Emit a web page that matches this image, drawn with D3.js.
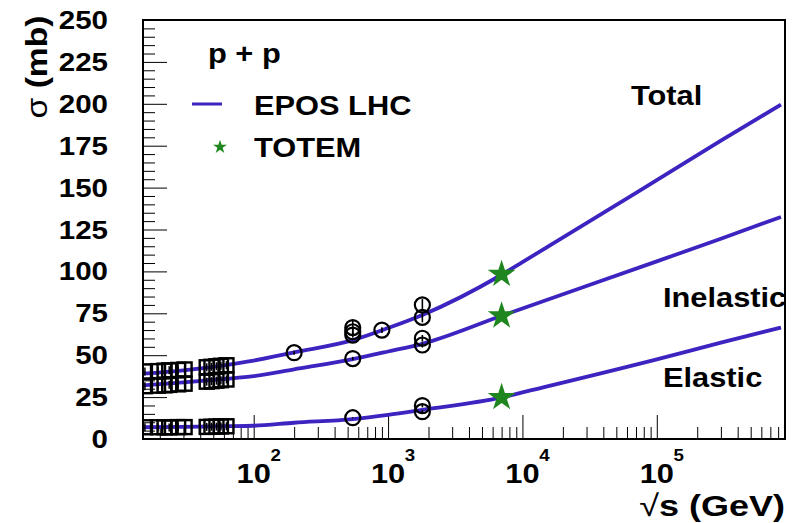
<!DOCTYPE html>
<html>
<head>
<meta charset="utf-8">
<script src="https://cdn.jsdelivr.net/npm/d3@7"></script>
<style>
  html, body { margin: 0; padding: 0; background: #fff; }
  svg { display: block; }
  text { font-family: "Liberation Sans", Arial, Helvetica, sans-serif; font-weight: bold; fill: #000; }
</style>
</head>
<body>
<svg id="chart" width="794" height="523"></svg>
<script>
// EPOS LHC model curves (sqrt(s) in GeV, cross sections in mb)
const eposEnergy   = [15, 30, 60, 100, 200, 546, 1000, 1800, 7000, 1e4, 1e5, 3e5, 8.4e5];
const eposTotal    = [39, 41, 44, 46.8, 51.7, 59, 66.2, 74, 98, 105.5, 154.5, 178, 199.5];
const eposInelastic= [32, 33.8, 35.8, 37.5, 41.6, 47.7, 52.2, 56.8, 73.5, 77.9, 106, 119.5, 132.5];
const eposElastic  = [7, 7.2, 7.6, 7.9, 9.7, 11.9, 14.4, 17.4, 24.8, 27.8, 47.5, 57.5, 66.5];

// pp data at lower energies (squares)
const ppEnergy     = [15.5, 19.4, 21.7, 23.5, 27.4, 30.6, 44.7, 48.5, 52.8, 57, 62.7];
const ppTotal      = [40.3, 40.5, 40.8, 41.0, 41.2, 41.5, 42.8, 43.1, 43.4, 43.7, 44.0];
const ppInelastic  = [31.5, 31.8, 32.0, 32.3, 32.6, 33.0, 34.2, 34.5, 34.8, 35.1, 35.5];
const ppElastic    = [7.0, 7.0, 7.0, 6.9, 7.1, 7.1, 7.2, 7.3, 7.4, 7.5, 7.6];

// collider data (circles): energy, value, error
const cTotalEnergy = [200, 546, 546, 546, 900, 1800, 1800];
const cTotal       = [51.5, 62, 64, 66.5, 65, 72.6, 80];
const cTotalErr    = [1.2, 1.5, 2, 4.5, 1.7, 3, 3.5];
const cInelEnergy  = [546, 1800, 1800];
const cInelastic   = [48, 56.1, 60.1];
const cInelErr     = [1, 1.5, 2];
const cElEnergy    = [546, 1800, 1800];
const cElastic     = [12.7, 16.3, 19.9];
const cElErr       = [0.3, 1, 1];

// TOTEM at 7 TeV (stars)
const totemEnergy  = [7000, 7000, 7000];
const totemValues  = [98.3, 73.5, 24.8];

// axis ticks
const yMajorTicks  = [0, 25, 50, 75, 100, 125, 150, 175, 200, 225, 250];
const xMajorTicks  = [100, 1e3, 1e4, 1e5];
const xMajorExp    = ["2", "3", "4", "5"];
const curveLabels  = ["Total", "Inelastic", "Elastic"];

const BLUE = "#3b24c0";
const GREEN = "#1f861f";

const svg = d3.select("#chart");
const L = 143, R = 785, T = 20, B = 439;

const x = d3.scaleLog().domain([15, 9e5]).range([L, R]);
const y = d3.scaleLinear().domain([0, 250]).range([B, T]);

// stretched text helper
function label(g, px, py, str, size, anchor, sx) {
  return g.append("text")
    .attr("transform", `translate(${px},${py}) scale(${sx || 1.1},1)`)
    .attr("text-anchor", anchor || "start")
    .style("font-size", size + "px")
    .text(str);
}

svg.append("defs").append("clipPath").attr("id", "plotClip")
  .append("rect").attr("x", L).attr("y", T).attr("width", R - L).attr("height", B - T);

// y ticks (inside, pointing right)
const yMinor = d3.range(0, 251, 5).filter(v => v % 25 !== 0);
svg.append("g").attr("transform", `translate(${L},0)`)
  .call(d3.axisRight(y).tickValues(yMinor).tickSize(12).tickFormat(""))
  .call(g => g.select(".domain").remove())
  .call(g => g.selectAll("line").attr("stroke", "#000").attr("stroke-width", 1));
svg.append("g").attr("transform", `translate(${L},0)`)
  .call(d3.axisRight(y).tickValues(yMajorTicks).tickSize(24).tickFormat(""))
  .call(g => g.select(".domain").remove())
  .call(g => g.selectAll("line").attr("stroke", "#000").attr("stroke-width", 1));

// x ticks (inside, pointing up)
const xMinor = [];
for (let d = 10; d <= 1e5; d *= 10) for (let m = 2; m <= 9; m++) {
  const v = d * m; if (v >= 15 && v <= 9e5) xMinor.push(v);
}
svg.append("g").attr("transform", `translate(0,${B})`)
  .call(d3.axisTop(x).tickValues(xMinor).tickSize(12).tickFormat(""))
  .call(g => g.select(".domain").remove())
  .call(g => g.selectAll("line").attr("stroke", "#000").attr("stroke-width", 1));
svg.append("g").attr("transform", `translate(0,${B})`)
  .call(d3.axisTop(x).tickValues(xMajorTicks).tickSize(24).tickFormat(""))
  .call(g => g.select(".domain").remove())
  .call(g => g.selectAll("line").attr("stroke", "#000").attr("stroke-width", 1));

// y tick labels
const yl = svg.append("g");
yMajorTicks.forEach(v => {
  label(yl, 108, y(v) + 9, String(v), 25, "end", 1.18);
});

// x tick labels: 10 with superscript exponent
const xl = svg.append("g");
xMajorTicks.forEach((v, i) => {
  label(xl, x(v), 483, "10", 28, "middle", 1.1);
  label(xl, x(v) + 22, 461, xMajorExp[i], 17, "middle", 1.1);
});

// axis titles
svg.append("text")
  .attr("transform", "translate(47,67) rotate(-90) scale(1.12,1)")
  .attr("text-anchor", "middle")
  .style("font-size", "30px")
  .call(t => {
    t.append("tspan").style("font-weight", "normal").text("σ");
    t.append("tspan").text(" (mb)");
  });
svg.append("text")
  .attr("transform", "translate(785,516) scale(1.2,1)")
  .attr("text-anchor", "end")
  .style("font-size", "30px")
  .call(t => {
    t.append("tspan").style("font-weight", "normal").text("√");
    t.append("tspan").text("s (GeV)");
  });

const plot = svg.append("g").attr("clip-path", "url(#plotClip)");

// model curves
const line = d3.line().x(d => x(d[0])).y(d => y(d[1])).curve(d3.curveMonotoneX);
[eposTotal, eposInelastic, eposElastic].forEach(series => {
  plot.append("path")
    .datum(eposEnergy.map((e, i) => [e, series[i]]))
    .attr("d", line)
    .attr("fill", "none")
    .attr("stroke", BLUE)
    .attr("stroke-width", 3.8)
    .attr("stroke-linejoin", "round");
});

// squares
const sq = 14;
[ppTotal, ppInelastic, ppElastic].forEach(series => {
  plot.append("g").selectAll("rect")
    .data(ppEnergy.map((e, i) => [e, series[i]]))
    .join("rect")
    .attr("x", d => x(d[0]) - sq / 2)
    .attr("y", d => y(d[1]) - sq / 2)
    .attr("width", sq).attr("height", sq)
    .attr("fill", "none").attr("stroke", "#000").attr("stroke-width", 2.4);
});
// small error bars inside the squares
[ppTotal, ppInelastic, ppElastic].forEach(series => {
  plot.append("g").selectAll("line")
    .data(ppEnergy.map((e, i) => [e, series[i]]))
    .join("line")
    .attr("x1", d => x(d[0])).attr("x2", d => x(d[0]))
    .attr("y1", d => y(d[1]) - 4).attr("y2", d => y(d[1]) + 4)
    .attr("stroke", "#000").attr("stroke-width", 1.5);
});

// circles with error bars
function circles(energy, vals, errs) {
  const data = energy.map((e, i) => [e, vals[i], errs[i]]);
  const g = plot.append("g");
  g.selectAll("line").data(data).join("line")
    .attr("x1", d => x(d[0])).attr("x2", d => x(d[0]))
    .attr("y1", d => y(d[1] - d[2])).attr("y2", d => y(d[1] + d[2]))
    .attr("stroke", "#000").attr("stroke-width", 1.6);
  g.selectAll("circle").data(data).join("circle")
    .attr("cx", d => x(d[0])).attr("cy", d => y(d[1])).attr("r", 7.5)
    .attr("fill", "none").attr("stroke", "#000").attr("stroke-width", 2.2);
}
circles(cTotalEnergy, cTotal, cTotalErr);
circles(cInelEnergy, cInelastic, cInelErr);
circles(cElEnergy, cElastic, cElErr);

// TOTEM stars
const star = d3.symbol().type(d3.symbolStar).size(240);
plot.append("g").selectAll("path")
  .data(totemEnergy.map((e, i) => [e, totemValues[i]]))
  .join("path")
  .attr("transform", d => `translate(${x(d[0])},${y(d[1])})`)
  .attr("d", star)
  .attr("fill", GREEN);

// curve names
const cl = svg.append("g");
label(cl, 631, 105, curveLabels[0], 28, "start", 1.1);
label(cl, 663, 307, curveLabels[1], 28, "start", 1.1);
label(cl, 663, 387, curveLabels[2], 28, "start", 1.1);

// legend
const lg = svg.append("g");
label(lg, 208, 63, "p + p", 28, "start", 1.1);
lg.append("line").attr("x1", 192).attr("x2", 222).attr("y1", 104).attr("y2", 104)
  .attr("stroke", BLUE).attr("stroke-width", 3);
label(lg, 254, 115, "EPOS LHC", 28, "start", 1.1);
lg.append("path").attr("transform", "translate(220,147)")
  .attr("d", d3.symbol().type(d3.symbolStar).size(60)).attr("fill", GREEN);
label(lg, 254, 157, "TOTEM", 28, "start", 1.1);

// frame
svg.append("rect").attr("x", L).attr("y", T).attr("width", R - L).attr("height", B - T)
  .attr("fill", "none").attr("stroke", "#000").attr("stroke-width", 2);
</script>
</body>
</html>
